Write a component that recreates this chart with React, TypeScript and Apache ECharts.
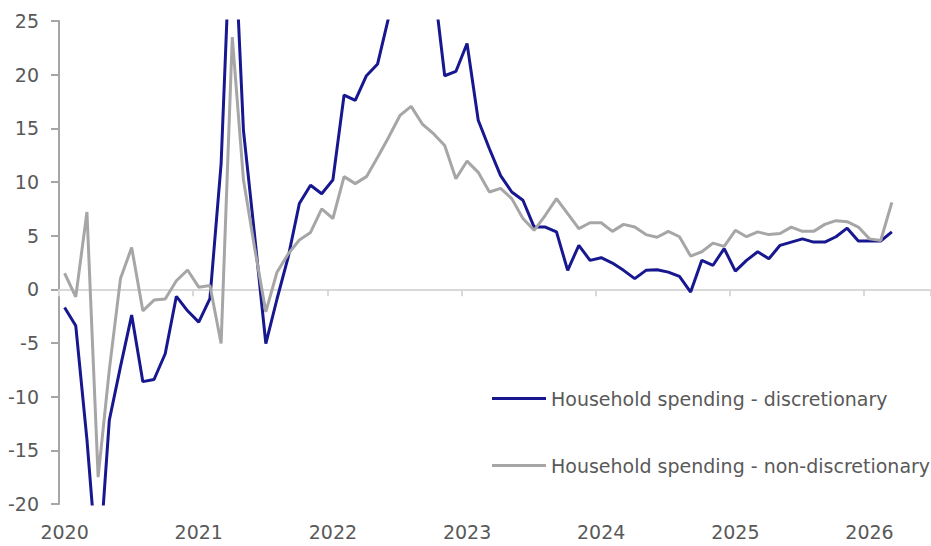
import React, { useEffect, useRef } from 'react';
import * as echarts from 'echarts';

const yearLabels = ['2020', '2021', '2022', '2023', '2024', '2025', '2026'];
const monthLabels = ['01', '02', '03', '04', '05', '06', '07', '08', '09', '10', '11', '12'];
const axisMonthCount = 78; // Jan 2020 .. Jun 2026

const categories: string[] = [];
yearLabels.forEach((y) => monthLabels.forEach((m) => categories.push(`${y}-${m}`)));
const axisCategories = categories.slice(0, axisMonthCount);

// Household spending - discretionary (% y/y), Jan 2020 .. Mar 2026
const discretionary = [
  -1.7, -3.4, -14, -27, -12.2, -7.2, -2.4, -8.6, -8.4, -6.0, -0.65, -2.0,
  -3.05, -0.87, 11.7, 37.7, 14.8, 5.0, -5.05, -0.9, 3.0, 8.0, 9.7, 8.9,
  10.2, 18.1, 17.6, 19.9, 21.0, 25.4, 31, 36, 34, 28.7, 19.9, 20.3,
  22.9, 15.75, 13.1, 10.6, 9.07, 8.3, 5.8, 5.8, 5.35, 1.77, 4.1, 2.7,
  2.95, 2.45, 1.77, 1.0, 1.77, 1.83, 1.6, 1.2, -0.25, 2.7, 2.24, 3.8,
  1.7, 2.7, 3.5, 2.85, 4.1, 4.4, 4.7, 4.4, 4.4, 4.9, 5.7, 4.5,
  4.5, 4.5, 5.35,
];

// Household spending - non-discretionary (% y/y), Jan 2020 .. Mar 2026
const nonDiscretionary = [
  1.5, -0.7, 7.2, -17.5, -7.5, 1.0, 3.9, -2.0, -1.0, -0.9, 0.8, 1.8,
  0.2, 0.35, -5.05, 23.5, 10.2, 3.85, -2.1, 1.6, 3.3, 4.6, 5.3, 7.5,
  6.6, 10.5, 9.85, 10.5, 12.3, 14.2, 16.2, 17.05, 15.4, 14.5, 13.4, 10.3,
  11.95, 10.9, 9.07, 9.4, 8.45, 6.6, 5.5, 6.9, 8.45, 7.05, 5.65, 6.2,
  6.2, 5.4, 6.05, 5.8, 5.1, 4.85, 5.4, 4.9, 3.1, 3.5, 4.3, 4.0,
  5.5, 4.9, 5.35, 5.1, 5.2, 5.8, 5.4, 5.4, 6.05, 6.4, 6.3, 5.8,
  4.7, 4.55, 8.1,
];

const yTicks = { min: -20, max: 25, interval: 5 };

const seriesNames = ['Household spending - discretionary', 'Household spending - non-discretionary'];
const seriesColors = ['#17178f', '#a6a6a6'];

const FONT = '"DejaVu Sans", sans-serif';
const TEXT_COLOR = '#595959';
const FONT_SIZE = 19;

export default function App() {
  const ref = useRef<HTMLDivElement>(null);

  useEffect(() => {
    if (!ref.current) return;
    const chart = echarts.init(ref.current, undefined, { renderer: 'svg' });
    const legendBase = {
      left: 492,
      padding: 0,
      icon: 'rect',
      itemWidth: 54,
      itemHeight: 3,
      itemGap: 6,
      textStyle: { color: TEXT_COLOR, fontSize: FONT_SIZE, fontFamily: FONT },
    };
    const option = {
      animation: false,
      grid: { left: 59, right: 0, top: 21, bottom: 42, containLabel: false },
      legend: [
        { ...legendBase, data: [seriesNames[0]], top: 389 },
        { ...legendBase, data: [seriesNames[1]], top: 456 },
      ],
      xAxis: [
        {
          type: 'category',
          data: axisCategories,
          boundaryGap: true,
          position: 'bottom',
          axisLine: { show: false, onZero: false },
          axisTick: { show: false },
          axisLabel: {
            interval: 11,
            formatter: (v: string) => v.slice(0, 4),
            color: TEXT_COLOR,
            fontSize: FONT_SIZE,
            fontFamily: FONT,
            margin: 18,
          },
          splitLine: { show: false },
        },
        {
          type: 'category',
          data: axisCategories,
          boundaryGap: true,
          position: 'bottom',
          axisLine: { show: true, onZero: true, lineStyle: { color: '#d9d9d9', width: 2 } },
          axisTick: { show: true, interval: 11, length: 7, lineStyle: { color: '#d9d9d9', width: 2 } },
          axisLabel: { show: false },
          splitLine: { show: false },
        },
      ],
      yAxis: {
        type: 'value',
        min: yTicks.min,
        max: yTicks.max,
        interval: yTicks.interval,
        axisLine: { show: true, lineStyle: { color: '#a6a6a6', width: 2 } },
        axisTick: { show: true, length: 8, lineStyle: { color: '#a6a6a6', width: 2 } },
        splitLine: { show: false },
        axisLabel: { color: TEXT_COLOR, fontSize: FONT_SIZE, fontFamily: FONT, margin: 20 },
      },
      series: [
        {
          name: seriesNames[0],
          type: 'line',
          xAxisIndex: 0,
          data: discretionary,
          symbol: 'none',
          clip: true,
          lineStyle: { color: seriesColors[0], width: 3 },
          itemStyle: { color: seriesColors[0] },
        },
        {
          name: seriesNames[1],
          type: 'line',
          xAxisIndex: 0,
          data: nonDiscretionary,
          symbol: 'none',
          clip: true,
          lineStyle: { color: seriesColors[1], width: 3 },
          itemStyle: { color: seriesColors[1] },
        },
      ],
    };
    chart.setOption(option);
    return () => chart.dispose();
  }, []);

  return (
    <div
      ref={ref}
      style={{ position: 'fixed', left: 0, top: 0, width: 931, height: 546, background: '#ffffff' }}
    />
  );
}
